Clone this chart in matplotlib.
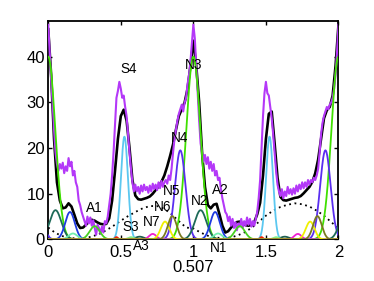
import numpy as np
import matplotlib
matplotlib.use("Agg")
import matplotlib.pyplot as plt

plt.rcParams['font.family'] = ['Liberation Sans', 'DejaVu Sans']

# ── Data ────────────────────────────────────────────────────
# total fit (black), sampled every 0.02
x_fit = np.round(np.arange(0, 2.0001, 0.02), 2)
y_fit = [46, 36, 22, 12.5, 8.5, 6.8, 7.0, 7.9, 7.2, 5.4,
         3.5, 2.5, 2.6, 3.2, 3.9, 4.3, 4.1, 3.7, 3.4, 3.3,
         3.4, 4.6, 8.5, 15, 22, 27, 28.4, 26, 20, 13,
         9.6, 8.8, 8.7, 8.9, 9.1, 9.4, 10, 10.8, 11.6, 12.6,
         14, 16, 18.3, 20.8, 24, 27, 28.5, 30, 33, 38,
         43.5, 38, 30, 19, 11.5, 7.5, 6.8, 7.6, 7.8, 5.5,
         3.0, 1.5, 1.8, 2.6, 3.3, 3.8, 3.9, 3.5, 3.1, 3.0,
         3.2, 3.8, 5.5, 8.0, 14, 22, 27.5, 28, 21, 13.5,
         9.3, 8.6, 8.5, 8.7, 8.9, 9.1, 9.2, 9.5, 10.1, 10.8,
         11.5, 12.6, 14.5, 17.5, 22, 26.5, 28.3, 29, 31.5, 38,
         47]

# measured profile (purple), sampled every 0.01
x_obs = np.round(np.arange(0, 2.0001, 0.01), 2)
y_obs = [47, 41, 35, 30, 24, 19, 16.5, 15, 16.5, 15.5,
         16.8, 14.5, 16, 15, 17.8, 16, 17, 14, 15, 12.5,
         11.5, 8.5, 7.5, 6, 5, 4, 3, 5, 3.5, 4.8,
         3, 4.2, 2.5, 1, 3.2, 2.5, 1.2, 2.8, 1.5, 4,
         3.5, 5, 7.5, 10, 14, 19, 25, 31, 32.5, 34.5,
         33, 31, 31.5, 29, 27, 23, 19, 15.5, 12.5, 10.5,
         12, 10.5, 11.5, 10, 11.8, 10.5, 12, 10.8, 11.5, 10.2,
         11.8, 10.5, 12.2, 11, 12, 10.8, 12.5, 11.2, 12.8, 11.5,
         12.5, 13, 12.2, 14, 13, 15.5, 19, 22, 24, 26,
         27.5, 28.5, 29.5, 28, 30, 31, 34, 36, 39, 43,
         47, 44, 38, 32, 26, 21, 19, 17, 18.5, 16.5,
         18, 15.5, 17, 15, 16.5, 14, 15, 13, 13.5, 11,
         9, 7.5, 6, 5.5, 4, 5, 3, 4.5, 2.5, 3.8,
         2, 3.5, 2.8, 4.5, 2.5, 4, 3, 4.8, 3.2, 4.5,
         2.8, 4, 3, 4.5, 6, 9, 13, 20, 27, 32,
         34.5, 32, 31.5, 29, 26.5, 23, 19, 15, 12, 10.5,
         9.5, 11, 9, 10.5, 9.5, 11.5, 10, 11, 9.8, 11.2,
         10, 11.8, 10.5, 12, 11, 12.5, 11.2, 12.5, 11.5, 13,
         12, 13, 12.5, 13.5, 13, 14, 15.5, 19, 23, 25.5,
         27, 28, 29, 28.5, 29.5, 30, 31, 33, 36, 41,
         47]

# broad background (dotted), sampled every 0.05
x_bg = np.round(np.arange(0, 2.0001, 0.05), 2)
y_bg = [2.6, 1.4, 0.7, 0.3, 0.2, 0.3, 0.6, 1.2, 2.0, 3.0,
        4.1, 5.1, 6.0, 6.8, 7.3, 7.3, 6.7, 5.5, 4.0, 2.6,
        2.4, 1.5, 0.8, 0.4, 0.3, 0.4, 0.8, 1.5, 2.5, 3.8,
        5.2, 6.3, 7.1, 7.6, 7.9, 7.7, 7.2, 6.3, 5.2, 3.8,
        2.4]

# Gaussian components (one per period of 1): centre, height, width
comp_center = [0.0, 0.525, 0.91, 0.05, 0.15, 0.32, 0.17, 0.47, 0.63, 0.57, 0.72, 0.805, 0.855]
comp_height = [40.0, 22.5, 19.5, 6.4, 6.0, 2.9, 1.3, 0.5, 0.6, 0.5, 1.2, 3.9, 5.1]
comp_sigma = [0.048, 0.024, 0.036, 0.04, 0.033, 0.035, 0.03, 0.01, 0.03, 0.02, 0.025, 0.03, 0.03]
comp_color = ['#3fe000', '#5cc8f0', '#5a2ef0', '#1d6a58', '#1e3ae0', '#46d020', '#70eeb0',
              '#ee2200', '#1f5f50', '#88ee88', '#f020d0', '#f0f000', '#7a7a20']

labels = ['S4', 'N3', 'N4', 'N5', 'N6', 'N7', 'S3', 'A3', 'A1', 'A2', 'N2', 'N1']
label_x = [0.553, 1.0, 0.904, 0.849, 0.785, 0.714, 0.566, 0.644, 0.32, 1.184, 1.046, 1.177]
label_y = [37.4, 38.1, 22.1, 10.6, 7.1, 3.8, 2.8, -1.5, 6.8, 10.8, 8.4, -1.9]

# ── Figure ──────────────────────────────────────────────────
fig = plt.figure(figsize=(3.74, 2.81), dpi=100)
ax = fig.add_axes([0.129, 0.148, 0.776, 0.777])

xx = np.linspace(0, 2, 801)
ax.plot(x_bg, y_bg, color='k', linestyle=(0, (1, 2)), linewidth=1.3, zorder=1)
ax.plot(x_fit, y_fit, color='k', linewidth=1.9, zorder=2)
ax.plot(x_obs, y_obs, color='#b438f8', linewidth=1.5, zorder=3)

for c, h, s, col in zip(comp_center, comp_height, comp_sigma, comp_color):
    yy = np.zeros_like(xx)
    for k in (-1, 0, 1, 2):
        yy += h * np.exp(-(xx - c - k) ** 2 / (2 * s ** 2))
    ax.plot(xx, yy, color=col, linewidth=1.3, zorder=4)

for t, lx, ly in zip(labels, label_x, label_y):
    ax.text(lx, ly, t, ha='center', va='center', fontsize=9.8, zorder=6, clip_on=False)

ax.set_xlim(0, 2)
ax.set_ylim(0, 47.8)
ax.set_xticks([0, 0.5, 1, 1.5, 2])
ax.set_xticklabels(['0', '0.5', '1', '1.5', '2'])
ax.set_yticks([0, 10, 20, 30, 40])
ax.tick_params(direction='in', top=True, right=True, labelsize=12, length=3, width=1, pad=2.5)
ax.tick_params(axis='x', pad=4)
for sp in ax.spines.values():
    sp.set_linewidth(1.3)
ax.set_xlabel('0.507', fontsize=12, labelpad=0)

fig.savefig('out.png', dpi=100)
